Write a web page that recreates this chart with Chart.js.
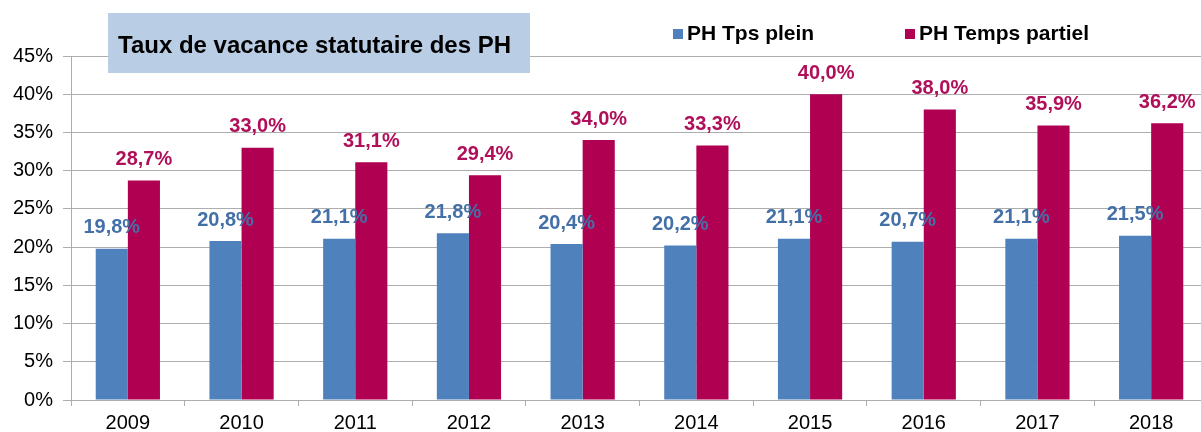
<!DOCTYPE html>
<html>
<head>
<meta charset="utf-8">
<script src="https://cdn.jsdelivr.net/npm/chart.js@4"></script>
<style>
  html, body { margin: 0; padding: 0; background: #fff; overflow: hidden; }
  #wrap { width: 1208px; height: 432px; }
</style>
</head>
<body>
<div id="wrap"><canvas id="vacanceChart"></canvas></div>
<script>
const years = ["2009", "2010", "2011", "2012", "2013", "2014", "2015", "2016", "2017", "2018"];
const tpsPlein = [19.8, 20.8, 21.1, 21.8, 20.4, 20.2, 21.1, 20.7, 21.1, 21.5];
const tempsPartiel = [28.7, 33.0, 31.1, 29.4, 34.0, 33.3, 40.0, 38.0, 35.9, 36.2];
const seriesNames = ["PH Tps plein", "PH Temps partiel"];
const chartTitle = "Taux de vacance statutaire des PH";

const blue = "#4f81bd";
const red = "#b00051";
const blueText = "#4470a8";
const redText = "#b0105a";
const gridColor = "#adadad";
const fontFamily = "'Liberation Sans', Arial, sans-serif";

function fmt(v) {
  return v.toFixed(1).replace(".", ",") + "%";
}

// value labels above each bar + title box + legend
const overlay = {
  id: "overlay",
  afterDatasetsDraw(chart) {
    const ctx = chart.ctx;
    ctx.save();
    ctx.font = "bold 20px " + fontFamily;
    ctx.textAlign = "center";
    ctx.textBaseline = "middle";
    chart.data.datasets.forEach((ds, i) => {
      ctx.fillStyle = i === 0 ? blueText : redText;
      chart.getDatasetMeta(i).data.forEach((bar, j) => {
        ctx.fillText(fmt(ds.data[j]), bar.x, bar.y - 21);
      });
    });
    ctx.restore();
  },
  afterDraw(chart) {
    const ctx = chart.ctx;
    ctx.save();
    // title box
    ctx.fillStyle = "#b9cde5";
    ctx.fillRect(108, 13, 422, 60);
    ctx.fillStyle = "#000";
    ctx.font = "bold 24px " + fontFamily;
    ctx.textAlign = "left";
    ctx.textBaseline = "alphabetic";
    ctx.fillText(chartTitle, 118, 53);
    // legend
    ctx.font = "bold 21px " + fontFamily;
    ctx.textBaseline = "middle";
    const items = [
      { x: 673, color: blue, label: seriesNames[0] },
      { x: 905, color: red, label: seriesNames[1] }
    ];
    items.forEach((it) => {
      ctx.fillStyle = it.color;
      ctx.fillRect(it.x, 29, 10, 10);
      ctx.fillStyle = "#000";
      ctx.fillText(it.label, it.x + 14, 34);
    });
    ctx.restore();
  }
};

new Chart(document.getElementById("vacanceChart"), {
  type: "bar",
  data: {
    labels: years,
    datasets: [
      { label: seriesNames[0], data: tpsPlein, backgroundColor: blue },
      { label: seriesNames[1], data: tempsPartiel, backgroundColor: red }
    ]
  },
  options: {
    responsive: true,
    maintainAspectRatio: false,
    animation: false,
    datasets: {
      bar: { categoryPercentage: 0.565, barPercentage: 1 }
    },
    layout: { padding: { top: 56, right: 0, left: 0, bottom: 0 } },
    plugins: {
      legend: { display: false },
      tooltip: { enabled: false }
    },
    scales: {
      x: {
        afterFit: (s) => { s.height = 32; },
        grid: { drawOnChartArea: false, drawTicks: true, tickLength: 6, color: gridColor },
        border: { color: gridColor },
        ticks: { color: "#000", font: { family: fontFamily, size: 20 }, padding: 5 }
      },
      y: {
        min: 0,
        max: 45,
        afterFit: (s) => { s.width = 71; },
        grid: { color: gridColor, tickLength: 8 },
        border: { color: gridColor },
        ticks: {
          stepSize: 5,
          color: "#000",
          padding: 10,
          font: { family: fontFamily, size: 20 },
          callback: (v) => v + "%"
        }
      }
    }
  },
  plugins: [overlay]
});
</script>
</body>
</html>
